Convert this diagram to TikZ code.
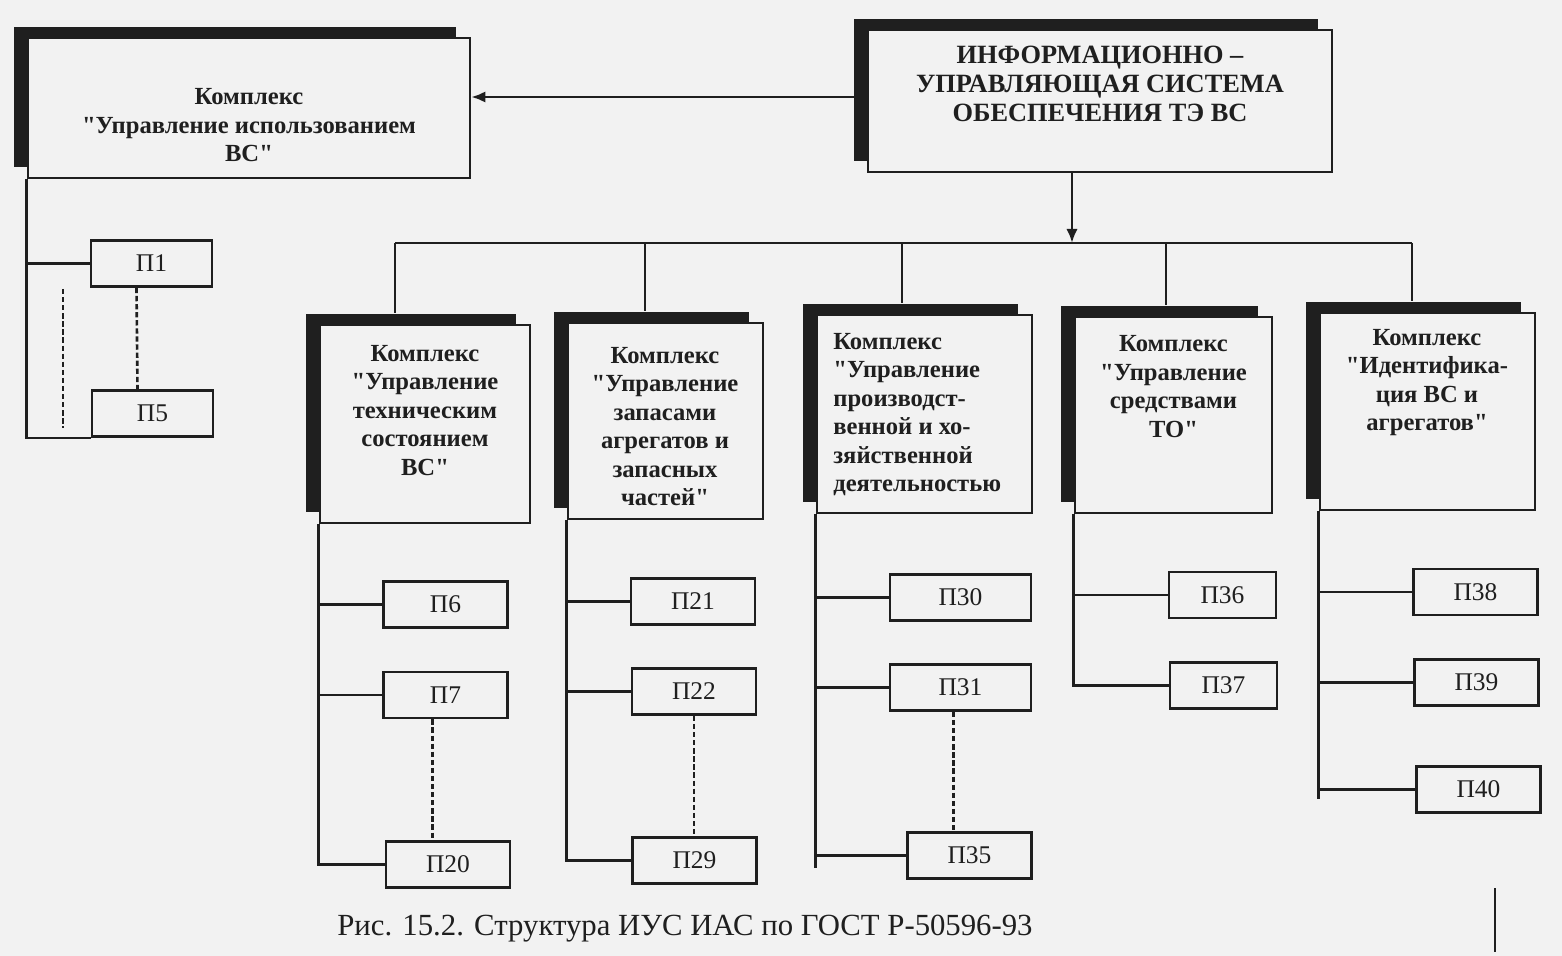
\documentclass[tikz,border=0pt]{standalone}
\usepackage{fontspec}
\setmainfont{Liberation Serif}[Ligatures=TeXOff]
\usetikzlibrary{positioning,shadows,arrows.meta,calc}

\definecolor{paper}{gray}{0.95}
\definecolor{ink}{gray}{0.12}

\tikzset{
  kbox/.style={draw=ink, fill=paper, line width=1.6pt, inner sep=0pt,
    drop shadow={shadow xshift=-0.28cm, shadow yshift=0.22cm, fill=ink, opacity=1}},
  ktext/.style={align=center, inner sep=0pt, text=ink,
    font=\bfseries\fontsize{14}{16.2}\selectfont},
  pbox/.style={draw=ink, fill=paper, line width=1.6pt, inner sep=0pt,
    minimum width=2.48cm, minimum height=0.92cm, text=ink,
    font=\fontsize{14.5}{16}\selectfont},
  conn/.style={draw=ink, line width=1.5pt},
  dconn/.style={draw=ink, line width=1.5pt, dash pattern=on 3pt off 1.6pt},
  arr/.style={conn, -{Latex[length=8pt,width=6.5pt]}}
}

\begin{document}
\begin{tikzpicture}[x=0.02cm, y=-0.02cm]
\useasboundingbox (0,0) rectangle (1562,956);
\fill[paper] (0,0) rectangle (1562,956);

% main system and the left complex
\node[kbox, minimum width=9.28cm, minimum height=2.84cm] (isu) at (1100,101) {};
\node[ktext, font=\bfseries\fontsize{15}{16.5}\selectfont] (isut) at (1100,84)
  {ИНФОРМАЦИОННО –\\УПРАВЛЯЮЩАЯ СИСТЕМА\\ОБЕСПЕЧЕНИЯ ТЭ ВС};
\node[kbox, minimum width=8.84cm, minimum height=2.8cm] (kiv) at (249,108) {};
\node[ktext] (kivt) at (249,125.5) {Комплекс\\"Управление использованием\\ВС"};
\draw[arr] (isu.west |- 0,97) -- (kiv.east |- 0,97);

% lower complexes
\node[kbox, minimum width=4.2cm, minimum height=3.96cm] (k1) at (425,424) {};
\node[ktext] (k1t) at (425,410.5) {Комплекс\\"Управление\\техническим\\состоянием\\ВС"};
\node[kbox, minimum width=3.9cm, minimum height=3.92cm] (k2) at (665.5,421) {};
\node[ktext] (k2t) at (665,426.5) {Комплекс\\"Управление\\запасами\\агрегатов и\\запасных\\частей"};
\node[kbox, minimum width=4.3cm, minimum height=3.96cm] (k3) at (924.5,414) {};
\node[ktext, align=left, anchor=west] (k3t) at (833,414.5) {Комплекс\\"Управление\\производст-\\венной и хо-\\зяйственной\\деятельностью};
\node[kbox, minimum width=3.94cm, minimum height=3.92cm] (k4) at (1173.5,415) {};
\node[ktext] (k4t) at (1173.5,386.5) {Комплекс\\"Управление\\средствами\\ТО"};
\node[kbox, minimum width=4.3cm, minimum height=3.94cm] (k5) at (1427.5,411.5) {};
\node[ktext] (k5t) at (1427,382.5) {Комплекс\\"Идентифика-\\ция ВС и\\агрегатов"};

% bus
\coordinate (bus) at (1072,243);
\coordinate (b1) at (395,243);
\coordinate (b2) at (645,243);
\coordinate (b3) at (902,243);
\coordinate (b4) at (1166,243);
\coordinate (b5) at (1412,243);
\draw[arr] (isu.south -| bus) -- (bus);
\draw[conn] (b1) -- (b5);
\foreach \i in {1,...,5}
  \draw[conn] (b\i) -- ($(b\i |- k\i.north)+(0,-11)$);

% subsystems
\node[pbox, minimum width=2.42cm] (p1) at (151.5,263.5) {П1};
\node[pbox, minimum width=2.42cm] (p5) at (152.5,413.5) {П5};
\node[pbox] (p6) at (445.5,604.5) {П6};
\node[pbox] (p7) at (445.5,695) {П7};
\node[pbox] (p20) at (448,864.5) {П20};
\node[pbox] (p21) at (693,601.5) {П21};
\node[pbox] (p22) at (694,691.5) {П22};
\node[pbox] (p29) at (694.5,860.5) {П29};
\node[pbox, minimum width=2.82cm] (p30) at (960.5,597.5) {П30};
\node[pbox, minimum width=2.82cm] (p31) at (960.5,687.5) {П31};
\node[pbox] (p35) at (969.5,855.5) {П35};
\node[pbox, minimum width=2.14cm] (p36) at (1222.5,595) {П36};
\node[pbox, minimum width=2.14cm] (p37) at (1223.5,685.5) {П37};
\node[pbox] (p38) at (1475.5,592) {П38};
\node[pbox] (p39) at (1476.5,682.5) {П39};
\node[pbox] (p40) at (1478.5,789.5) {П40};

% trunks
\draw[conn] (kiv.south west) |- (p5.south west);
\draw[conn] (kiv.south west |- p1.west) -- (p1.west);
\draw[dconn] ($(p1.south)+(-15,0)$) -- ($(p5.north)+(-15,0)$);
\draw[dconn] (63,289) -- (63,428);

\draw[conn] (k1.south west) |- (p20.west);
\draw[conn] (k1.south west |- p6.west) -- (p6.west);
\draw[conn] (k1.south west |- p7.west) -- (p7.west);
\draw[dconn] ($(p7.south)+(-13,0)$) -- ($(p7.south |- p20.north)+(-13,0)$);

\draw[conn] (k2.south west) |- (p29.west);
\draw[conn] (k2.south west |- p21.west) -- (p21.west);
\draw[conn] (k2.south west |- p22.west) -- (p22.west);
\draw[dconn] (p22.south) -- (p22.south |- p29.north);

\draw[conn] (k3.south west) -- ++(0,354);
\draw[conn] (k3.south west |- p30.west) -- (p30.west);
\draw[conn] (k3.south west |- p31.west) -- (p31.west);
\draw[conn] (k3.south west |- p35.west) -- (p35.west);
\draw[dconn] ($(p31.south)+(-7,0)$) -- ($(p31.south |- p35.north)+(-7,0)$);

\draw[conn] (k4.south west) |- (p37.west);
\draw[conn] (k4.south west |- p36.west) -- (p36.west);

\draw[conn] (k5.south west) -- ++(0,288);
\draw[conn] (k5.south west |- p38.west) -- (p38.west);
\draw[conn] (k5.south west |- p39.west) -- (p39.west);
\draw[conn] (k5.south west |- p40.west) -- (p40.west);

\node[text=ink, inner sep=0pt, font=\fontsize{17.5}{20}\selectfont] (cap) at (685,929)
  {Рис. 15.2. Структура ИУС ИАС по ГОСТ Р-50596-93};
\draw[ink, line width=0.8pt] (1495,888) -- (1495,952);
\end{tikzpicture}
\end{document}
